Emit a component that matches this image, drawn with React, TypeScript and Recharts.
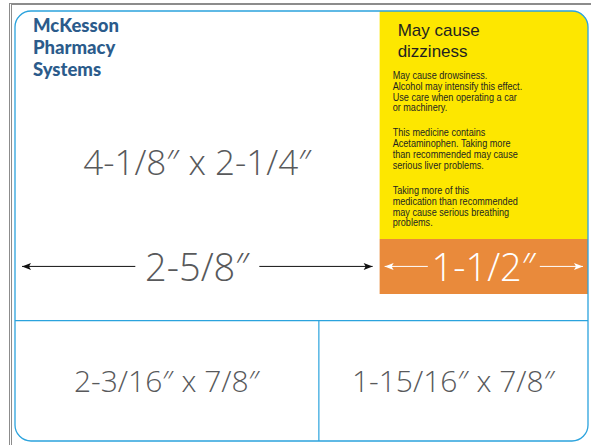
import { ComposedChart, XAxis, YAxis, Scatter, ReferenceArea, ReferenceLine } from "recharts"

// label sections, in inches
const topWidths = [2.625, 1.5]
const bottomWidths = [2.1875, 1.9375]
const widthLabels = ["2-5/8″", "1-1/2″"]
const sizeLabel = "4-1/8″ x 2-1/4″"
const bottomLabels = ["2-3/16″ x 7/8″", "1-15/16″ x 7/8″"]
const brandLines = ["McKesson", "Pharmacy", "Systems"]
const warningTitle = ["May cause", "dizziness"]
const warningParas = [
  ["May cause drowsiness.", "Alcohol may intensify this effect.", "Use care when operating a car", "or machinery."],
  ["This medicine contains", "Acetaminophen. Taking more", "than recommended may cause", "serious liver problems."],
  ["Taking more of this", "medication than recommended", "may cause serious breathing", "problems."],
]

// vertical layout, percent of label height from the bottom
const ROW_TOP = 28
const BAND_LO = 34.2
const BAND_HI = 47
const SIZE_Y = 65

const BLUE = "#2ba3dd"
const GREY = "#58595b"
const LIGHT = "'Open Sans', 'DejaVu Sans', sans-serif"

const total = topWidths.reduce((a, b) => a + b, 0)
const topEdges = topWidths.map((_, i) => topWidths.slice(0, i).reduce((a, b) => a + b, 0))
const bottomEdges = bottomWidths.map((_, i) => bottomWidths.slice(0, i).reduce((a, b) => a + b, 0))

const labelPoints = [
  { x: topWidths[0] / 2, y: SIZE_Y, label: sizeLabel, size: 35 },
  ...bottomLabels.map((label, i) => ({
    x: bottomEdges[i] + bottomWidths[i] / 2,
    y: ROW_TOP / 2,
    label,
    size: 30,
  })),
]

function LabelShape(props: any) {
  const { cx, cy, payload } = props
  return (
    <text
      x={cx}
      y={cy}
      textAnchor="middle"
      dominantBaseline="central"
      fontFamily={LIGHT}
      fontWeight={300}
      fontSize={payload.size}
      fill={GREY}
    >
      {payload.label}
    </text>
  )
}

function dimShape(label: string, color: string, gap: number, inset: number) {
  return (props: any) => {
    const { x, y, width, height } = props
    const cy = y + height / 2
    const cx = x + width / 2
    const l = x + inset
    const r = x + width - inset
    return (
      <g>
        <line x1={l} y1={cy} x2={cx - gap} y2={cy} stroke={color} strokeWidth={1} />
        <line x1={cx + gap} y1={cy} x2={r} y2={cy} stroke={color} strokeWidth={1} />
        <polygon points={`${l},${cy} ${l + 9},${cy - 3.5} ${l + 7},${cy} ${l + 9},${cy + 3.5}`} fill={color} />
        <polygon points={`${r},${cy} ${r - 9},${cy - 3.5} ${r - 7},${cy} ${r - 9},${cy + 3.5}`} fill={color} />
        <text
          x={cx}
          y={cy}
          textAnchor="middle"
          dominantBaseline="central"
          fontFamily={LIGHT}
          fontWeight={300}
          fontSize={38}
          fill={color === "#fff" ? "#fff" : GREY}
        >
          {label}
        </text>
      </g>
    )
  }
}

function OutlineShape(props: any) {
  const { x, y, width, height } = props
  return (
    <g>
      <rect x={x} y={y} width={width} height={height} rx={16} ry={16} fill="none" stroke={BLUE} strokeWidth={1.3} />
      {brandLines.map((t, i) => (
        <text
          key={t}
          x={x + 18}
          y={y + 21 + i * 22}
          fontFamily="Lato, sans-serif"
          fontWeight={900}
          fontSize={18.5}
          fill="#2b5b8b"
        >
          {t}
        </text>
      ))}
    </g>
  )
}

function WarningShape(props: any) {
  const { x, y, width, height } = props
  const r = 16
  const d = `M${x},${y} H${x + width - r} A${r},${r} 0 0 1 ${x + width},${y + r} V${y + height} H${x} Z`
  return (
    <g>
      <path d={d} fill="#fde700" />
      {warningTitle.map((t, i) => (
        <text
          key={t}
          x={x + 18}
          y={y + 25 + i * 21}
          fontFamily="'Liberation Sans', Arial, sans-serif"
          fontSize={17}
          fill="#231f20"
        >
          {t}
        </text>
      ))}
      {/* condensed body copy: plain sans squeezed horizontally */}
      <g transform={`translate(${x + 13},0) scale(0.83,1)`}>
        {warningParas.map((para, p) =>
          para.map((t, i) => (
            <text
              key={`${p}-${i}`}
              x={0}
              y={y + 68 + p * 57.5 + i * 10.8}
              fontFamily="'Liberation Sans', Arial, sans-serif"
              fontSize={11}
              fill="#231f20"
            >
              {t}
            </text>
          ))
        )}
      </g>
    </g>
  )
}

export default function App() {
  return (
    <div
      style={{
        position: "absolute",
        left: 0,
        top: 0,
        width: 591,
        height: 445,
        background: "#fff",
      }}
    >
      <div
        style={{
          position: "absolute",
          left: 9,
          top: 3,
          right: 0,
          bottom: 0,
          borderTop: "2px solid #8c8c8c",
          borderLeft: "3px double #8c8c8c",
        }}
      />
      <div style={{ position: "absolute", left: 0, top: 0 }}>
        <ComposedChart width={591} height={445} margin={{ top: 11, right: 3, bottom: 4, left: 15 }} data={labelPoints}>
          <XAxis type="number" dataKey="x" domain={[0, total]} hide allowDataOverflow />
          <YAxis type="number" dataKey="y" domain={[0, 100]} hide allowDataOverflow />
          <ReferenceArea x1={topEdges[1]} x2={total} y1={BAND_HI} y2={100} shape={WarningShape} />
          <ReferenceArea x1={topEdges[1]} x2={total} y1={BAND_LO} y2={BAND_HI} fill="#e98a3b" fillOpacity={1} stroke="none" />
          <ReferenceArea x1={0} x2={total} y1={0} y2={100} shape={OutlineShape} />
          <ReferenceLine y={ROW_TOP} stroke={BLUE} strokeWidth={1.2} />
          <ReferenceLine
            segment={[
              { x: bottomEdges[1], y: 0 },
              { x: bottomEdges[1], y: ROW_TOP },
            ]}
            stroke={BLUE}
            strokeWidth={1.2}
          />
          <ReferenceArea
            x1={topEdges[0]}
            x2={topEdges[1]}
            y1={BAND_LO}
            y2={BAND_HI}
            shape={dimShape(widthLabels[0], "#111", 62, 7)}
          />
          <ReferenceArea
            x1={topEdges[1]}
            x2={total}
            y1={BAND_LO}
            y2={BAND_HI}
            shape={dimShape(widthLabels[1], "#fff", 56, 5)}
          />
          <Scatter dataKey="y" shape={LabelShape} isAnimationActive={false} />
        </ComposedChart>
      </div>
    </div>
  )
}
